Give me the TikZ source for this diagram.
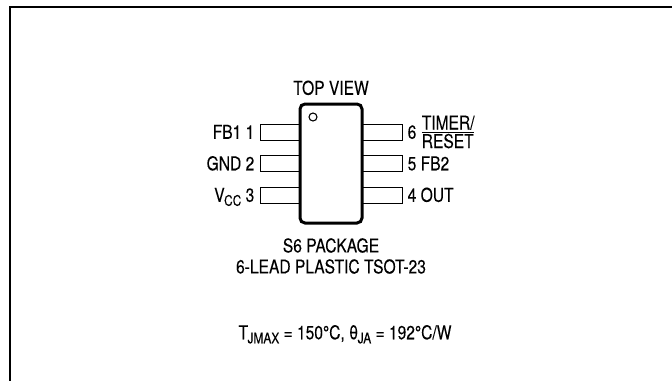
\documentclass[tikz,border=0pt]{standalone}
\usepackage{fontspec}
\setmainfont{TeX Gyre Heros}[FakeStretch=0.82,FakeBold=0.15]
\usetikzlibrary{positioning}

\newcommand{\lowsub}[1]{\kern-0.5pt\raisebox{-4pt}{\fontsize{14.5}{15}\selectfont #1}}

\tikzset{
    pinbox/.style={draw,line width=1pt,fill=white,minimum width=40pt,minimum height=16pt,inner sep=0pt},
    chipbody/.style={draw,line width=3pt,fill=white,rounded corners=5pt,minimum width=62pt,minimum height=119pt,inner sep=0pt},
    lbl/.style={inner sep=0pt,text height=13.5pt,text depth=0pt}
}

\begin{document}
\begin{tikzpicture}[x=1pt,y=-1pt,font=\fontsize{19}{21}\selectfont]
        \useasboundingbox (0,0) rectangle (672,381);
        \draw[line width=1.8pt] (672,7) -- (10,7) -- (10,381); % frame

        % leads
        \node(p1)[pinbox] at (280,132) {};
        \node(p2)[pinbox] at (280,163.5) {};
        \node(p3)[pinbox] at (280,195) {};
        \node(p6)[pinbox] at (382,132) {};
        \node(p5)[pinbox] at (382,163.5) {};
        \node(p4)[pinbox] at (382,195) {};

        % package body
        \node(chip)[chipbody] at (331,163.5) {};
        \draw[line width=1.1pt] (313,117) circle (4pt);

        \node(top)[lbl] at (331,88) {TOP VIEW};

        % pin names
        \node(l1)[lbl,left=5pt of p1] {FB1 1};
        \node(l2)[lbl,left=5pt of p2] {GND 2};
        \node(l3)[lbl,left=5pt of p3] {V\lowsub{CC} 3};
        \node(l6)[lbl,right=5pt of p6] {6};
        \node(t6)[inner sep=0pt,align=left,anchor=west,font=\fontsize{19}{18.5}\selectfont] at ([xshift=5pt]l6.east) {TIMER/\\$\overline{\mbox{RESET}}$};
        \node(l5)[lbl,right=5pt of p5] {5 FB2};
        \node(l4)[lbl,right=5pt of p4] {4 OUT};

        \node(pkg)[inner sep=0pt,align=center,font=\fontsize{19}{21}\selectfont] at (331,256) {S6 PACKAGE\\6-LEAD PLASTIC TSOT-23};

        \node(therm)[lbl] at (345,332.5) {T\lowsub{JMAX} = 150°C, θ\lowsub{JA} = 192°C/W};
\end{tikzpicture}
\end{document}
